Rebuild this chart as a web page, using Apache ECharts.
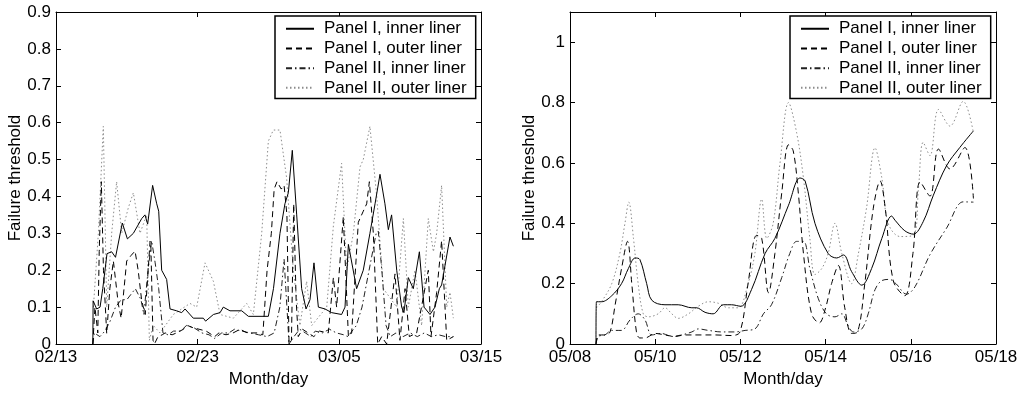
<!DOCTYPE html>
<html>
<head>
<meta charset="utf-8">
<title>Failure threshold</title>
<script src="https://cdn.jsdelivr.net/npm/echarts@6/dist/echarts.min.js"></script>
<style>
  html, body { margin: 0; padding: 0; background: #fff; }
  #chart { width: 1030px; height: 393px; }
</style>
</head>
<body>
<div id="chart"></div>
<script>
const seriesNames = ['Panel I, inner liner', 'Panel I, outer liner', 'Panel II, inner liner', 'Panel II, outer liner'];

// tick labels
const febTicks = ['02/13', '02/23', '03/05', '03/15'];   // every 10 days
const mayTicks = ['05/08', '05/10', '05/12', '05/14', '05/16', '05/18']; // every 2 days

// left panel, x = days after 02/13
const febInnerI = [[2.6,0],[2.62,0.117],[2.87,0.095],[3.11,0.1],[3.3,0.15],[3.6,0.245],[3.93,0.25],[4.2,0.235],[4.68,0.328],[5.04,0.285],[5.46,0.3],[6.05,0.34],[6.28,0.35],[6.47,0.325],[6.82,0.43],[7.11,0.38],[7.25,0.36],[7.46,0.2],[7.81,0.175],[7.95,0.17],[8.05,0.095],[8.52,0.09],[8.87,0.085],[9.11,0.095],[9.69,0.07],[10.4,0.07],[10.56,0.062],[11.11,0.08],[11.58,0.085],[11.81,0.1],[12.28,0.09],[13.11,0.09],[13.58,0.075],[14.99,0.075],[15.35,0.15],[15.81,0.3],[16.16,0.38],[16.4,0.41],[16.68,0.525],[16.99,0.35],[17.34,0.15],[17.65,0.095],[17.93,0.12],[18.21,0.22],[18.52,0.1],[18.99,0.095],[19.46,0.085],[20.16,0.08],[20.4,0.1],[20.64,0.27],[21.22,0.15],[21.69,0.2],[22.16,0.3],[22.52,0.38],[22.87,0.46],[23.22,0.38],[23.46,0.31],[23.69,0.35],[24.05,0.2],[24.4,0.1],[24.56,0.085],[24.87,0.18],[25.22,0.15],[25.65,0.25],[25.98,0.1],[26.4,0.08],[26.75,0.1],[27.06,0.15],[27.22,0.16],[27.81,0.29],[28.05,0.265]];
const febOuterI = [[2.6,0],[2.75,0.1],[2.95,0.03],[3.05,0.25],[3.2,0.44],[3.35,0.2],[3.58,0.028],[3.8,0.15],[4.05,0.225],[4.4,0.108],[4.6,0.07],[4.99,0.225],[5.3,0.24],[5.58,0.252],[5.8,0.2],[6.05,0.117],[6.3,0.08],[6.64,0.279],[6.7,0.26],[6.85,0.01],[6.95,0],[7.2,0.02],[7.5,0.025],[7.7,0.03],[8.2,0.025],[8.5,0.03],[9.0,0.04],[9.3,0.05],[9.6,0.045],[10.1,0.04],[10.6,0.035],[11.2,0.02],[11.5,0.03],[12.0,0.025],[12.5,0.03],[13.0,0.04],[13.5,0.03],[14.2,0.03],[14.6,0.025],[14.9,0.2],[15.2,0.3],[15.4,0.42],[15.6,0.44],[15.9,0.42],[16.1,0.43],[16.3,0.35],[16.45,0],[16.62,0.01],[16.78,0.38],[16.95,0.12],[17.1,0.02],[17.4,0.04],[17.8,0.03],[18.2,0.02],[18.6,0.035],[19.22,0.03],[19.58,0.18],[19.81,0.1],[20.28,0.345],[20.64,0.02],[20.87,0.03],[21.34,0.33],[21.69,0.36],[21.93,0.38],[22.12,0.44],[22.4,0.3],[22.71,0],[22.99,0.02],[23.34,0],[23.93,0.19],[24.28,0.01],[24.64,0.15],[24.94,0.02],[25.46,0.03],[26.28,0.2],[26.47,0.02],[26.87,0.14],[27.22,0.28],[27.58,0.01],[28.05,0.02]];
const febInnerII = [[2.6,0],[2.7,0.03],[3.1,0.02],[3.45,0.035],[3.8,0.06],[4.2,0.1],[4.6,0.12],[5.0,0.12],[5.6,0.15],[6.0,0.12],[6.2,0.08],[6.5,0.2],[6.75,0.28],[7.0,0.22],[7.25,0.15],[7.55,0.03],[7.9,0.025],[8.3,0.035],[8.8,0.035],[9.2,0.05],[9.7,0.045],[10.3,0.03],[10.8,0.025],[11.2,0.015],[11.7,0.03],[12.2,0.03],[12.6,0.04],[13.1,0.035],[13.7,0.03],[14.3,0.025],[14.9,0.02],[15.4,0.03],[15.8,0.1],[16.1,0.23],[16.3,0.1],[16.45,0],[16.8,0.02],[17.2,0.04],[17.6,0.03],[18.0,0.02],[18.3,0.035],[18.8,0.03],[19.3,0.04],[19.8,0.03],[20.3,0.025],[20.6,0.02],[21.2,0.05],[21.6,0.1],[22.1,0.2],[22.6,0.3],[22.75,0.306],[23.0,0.2],[23.3,0.05],[23.6,0.02],[24.0,0.03],[24.5,0.02],[25.0,0.03],[25.5,0.02],[26.0,0.03],[26.5,0.02],[27.0,0.025],[27.5,0.02],[28.05,0.02]];
const febOuterII = [[2.64,0.1],[2.99,0.3],[3.34,0.59],[3.58,0.1],[3.93,0.3],[4.28,0.44],[4.64,0.3],[5.11,0.37],[5.46,0.41],[5.93,0.3],[6.4,0.35],[6.59,0.01],[6.87,0.05],[7.34,0.03],[8.28,0.08],[9.46,0.11],[9.93,0.1],[10.52,0.22],[11.11,0.17],[11.58,0.08],[12.52,0.07],[13.46,0.11],[13.93,0.08],[14.52,0.3],[14.99,0.55],[15.34,0.58],[15.81,0.58],[16.28,0.45],[16.75,0.2],[17.22,0.05],[17.69,0.17],[18.05,0.05],[19.11,0.1],[19.58,0.32],[20.16,0.49],[20.52,0.2],[20.99,0.3],[21.46,0.48],[21.69,0.5],[22.16,0.59],[22.64,0.4],[23.11,0.15],[24.05,0.1],[24.52,0.34],[24.87,0.1],[25.34,0.2],[25.81,0.05],[26.28,0.34],[26.64,0.25],[26.87,0.3],[27.22,0.43],[27.58,0.1],[27.81,0.14],[28.05,0.07]];

// right panel, x = days after 05/08
const mayInnerI = [[0.61,0],[0.62,0.14],[0.74,0.14],[0.98,0.16],[1.21,0.2],[1.37,0.25],[1.53,0.285],[1.64,0.28],[1.8,0.2],[1.92,0.145],[2.23,0.13],[2.54,0.13],[2.86,0.12],[2.97,0.12],[3.17,0.105],[3.36,0.1],[3.6,0.13],[3.79,0.13],[4.01,0.125],[4.26,0.18],[4.58,0.3],[4.81,0.35],[5.13,0.46],[5.4,0.55],[5.52,0.54],[5.75,0.4],[6.06,0.3],[6.26,0.285],[6.42,0.295],[6.61,0.24],[6.85,0.195],[7.08,0.25],[7.32,0.35],[7.55,0.424],[7.63,0.41],[7.86,0.375],[8.06,0.364],[8.29,0.405],[8.53,0.493],[8.84,0.591],[9.15,0.651],[9.47,0.706]];
const mayOuterI = [[0.61,0],[0.67,0.03],[0.82,0.03],[0.94,0.04],[1.06,0.13],[1.21,0.25],[1.35,0.34],[1.45,0.2],[1.56,0.04],[1.64,0.02],[1.76,0.02],[2.0,0.035],[2.23,0.03],[2.46,0.025],[2.7,0.03],[3.09,0.03],[3.4,0.03],[3.79,0.028],[3.99,0.04],[4.18,0.2],[4.38,0.36],[4.5,0.35],[4.66,0.17],[4.81,0.3],[4.97,0.5],[5.13,0.66],[5.24,0.64],[5.36,0.5],[5.48,0.3],[5.67,0.1],[5.85,0.07],[6.0,0.12],[6.14,0.2],[6.3,0.26],[6.45,0.12],[6.61,0.035],[6.75,0.04],[6.92,0.2],[7.12,0.45],[7.28,0.54],[7.4,0.45],[7.59,0.209],[7.86,0.16],[8.05,0.3],[8.22,0.537],[8.45,0.49],[8.65,0.646],[8.92,0.58],[9.27,0.651],[9.47,0.482]];
const mayInnerII = [[0.61,0],[0.67,0.025],[0.82,0.03],[0.98,0.045],[1.21,0.045],[1.41,0.08],[1.6,0.1],[1.76,0.08],[1.92,0.03],[2.15,0.035],[2.39,0.025],[2.62,0.03],[2.86,0.04],[3.01,0.05],[3.25,0.045],[3.56,0.04],[3.87,0.04],[4.11,0.045],[4.34,0.05],[4.54,0.1],[4.73,0.13],[4.97,0.22],[5.16,0.3],[5.32,0.34],[5.48,0.34],[5.63,0.25],[5.83,0.15],[6.02,0.1],[6.22,0.09],[6.38,0.1],[6.53,0.06],[6.65,0.04],[6.85,0.05],[7.0,0.1],[7.16,0.18],[7.32,0.21],[7.5,0.214],[7.65,0.2],[7.9,0.165],[8.1,0.19],[8.45,0.296],[8.84,0.384],[9.23,0.471],[9.47,0.47]];
const mayOuterII = [[0.62,0.12],[0.74,0.14],[0.98,0.2],[1.17,0.3],[1.29,0.4],[1.38,0.47],[1.49,0.35],[1.6,0.2],[1.72,0.1],[1.84,0.09],[2.07,0.1],[2.23,0.12],[2.39,0.1],[2.54,0.085],[2.78,0.1],[3.01,0.125],[3.25,0.14],[3.48,0.135],[3.72,0.12],[3.95,0.12],[4.18,0.2],[4.34,0.3],[4.5,0.48],[4.62,0.35],[4.77,0.4],[4.93,0.6],[5.13,0.8],[5.32,0.7],[5.48,0.55],[5.63,0.35],[5.75,0.23],[5.91,0.25],[6.06,0.3],[6.22,0.4],[6.38,0.3],[6.61,0.2],[6.77,0.3],[6.96,0.45],[7.16,0.65],[7.32,0.55],[7.47,0.4],[7.75,0.356],[8.06,0.36],[8.18,0.515],[8.29,0.668],[8.45,0.624],[8.65,0.777],[8.92,0.722],[9.23,0.804],[9.47,0.7]];

const font = "'Liberation Sans', Arial, Helvetica, sans-serif";
const fs = 17;
const lineStyles = [
  { color: '#000', width: 1, type: 'solid' },
  { color: '#000', width: 1, type: [6, 4] },
  { color: '#222', width: 1, type: [6, 3, 1.5, 3] },
  { color: '#8c8c8c', width: 1, type: [1.5, 2.5] }
];

const grids = [
  { left: 56, top: 12, width: 425, height: 335 },
  { left: 570, top: 12, width: 426, height: 335 }
];

function xAxes(gridIndex, ticks, step) {
  const base = {
    gridIndex, type: 'value', min: 0, max: step * (ticks.length - 1), interval: step,
    axisLine: { onZero: false, lineStyle: { color: '#000', width: 1 } },
    axisTick: { inside: true, length: 5, lineStyle: { color: '#000' } },
    splitLine: { show: false }
  };
  return [
    Object.assign({}, base, {
      position: 'bottom',
      name: 'Month/day', nameLocation: 'middle', nameGap: 27,
      nameTextStyle: { color: '#000', fontSize: fs, fontFamily: font },
      axisLabel: { color: '#000', fontSize: fs, fontFamily: font, margin: 5,
        formatter: v => ticks[Math.round(v / step)] }
    }),
    Object.assign({}, base, { position: 'top', axisLabel: { show: false } })
  ];
}

function yAxes(gridIndex, max, step) {
  const base = {
    gridIndex, type: 'value', min: 0, max, interval: step,
    axisLine: { onZero: false, lineStyle: { color: '#000', width: 1 } },
    axisTick: { inside: true, length: 5, lineStyle: { color: '#000' } },
    splitLine: { show: false }
  };
  return [
    Object.assign({}, base, {
      position: 'left',
      name: 'Failure threshold', nameLocation: 'middle', nameGap: 31,
      nameTextStyle: { color: '#000', fontSize: fs, fontFamily: font },
      axisLabel: { color: '#000', fontSize: fs, fontFamily: font, margin: 5,
        showMaxLabel: max <= 1 }
    }),
    Object.assign({}, base, { position: 'right', axisLabel: { show: false } })
  ];
}

function legendAt(left) {
  return {
    left, top: 16, orient: 'vertical', selectedMode: false,
    data: seriesNames,
    itemWidth: 28, itemHeight: 10, itemGap: 2.2,
    itemStyle: { opacity: 0 },
    backgroundColor: '#fff', borderColor: '#000', borderWidth: 1.5, borderRadius: 0,
    padding: [4, 9, 2, 10],
    textStyle: { color: '#000', fontSize: fs, fontFamily: font, lineHeight: 17.5, padding: [0, 0, 0, 5] }
  };
}

function makeSeries(sets, axisIndex, smooth) {
  return sets.map((d, i) => ({
    name: seriesNames[i], type: 'line', data: d,
    xAxisIndex: axisIndex, yAxisIndex: axisIndex,
    symbol: 'none', smooth, lineStyle: lineStyles[i], color: lineStyles[i].color,
    z: 10 - i
  }));
}

const chart = echarts.init(document.getElementById('chart'), null, { renderer: 'canvas' });
chart.setOption({
  animation: false,
  backgroundColor: '#fff',
  textStyle: { fontFamily: font },
  grid: grids,
  xAxis: xAxes(0, febTicks, 10).concat(xAxes(1, mayTicks, 2)),
  yAxis: yAxes(0, 0.9, 0.1).concat(yAxes(1, 1.1, 0.2)),
  legend: [legendAt(275), legendAt(790)],
  series: makeSeries([febInnerI, febOuterI, febInnerII, febOuterII], 0, false)
    .concat(makeSeries([mayInnerI, mayOuterI, mayInnerII, mayOuterII], 2, 0.35))
});
</script>
</body>
</html>
